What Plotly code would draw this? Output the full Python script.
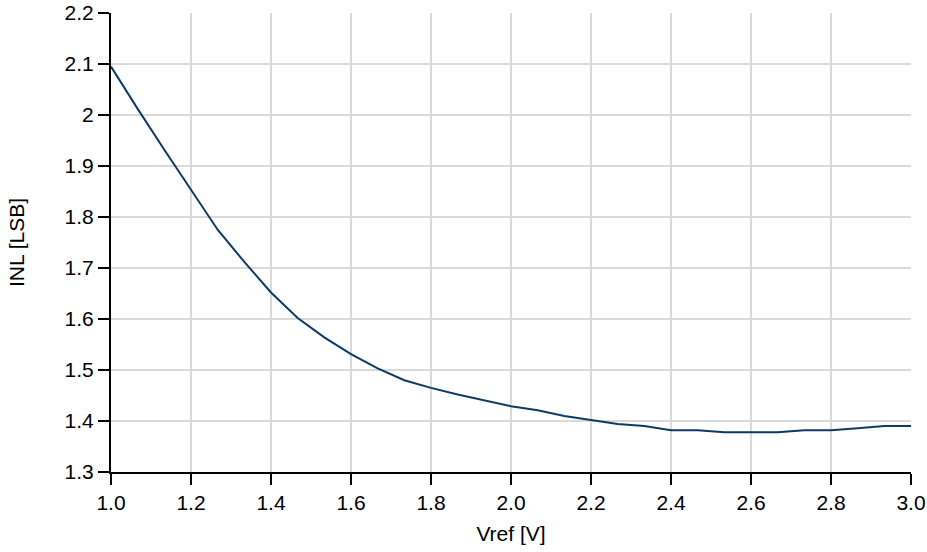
import plotly.graph_objects as go

vref = [1.0, 1.0667, 1.1333, 1.2, 1.2667, 1.3333, 1.4, 1.4667, 1.5333, 1.6,
        1.6667, 1.7333, 1.8, 1.8667, 1.9333, 2.0, 2.0667, 2.1333, 2.2, 2.2667,
        2.3333, 2.4, 2.4667, 2.5333, 2.6, 2.6667, 2.7333, 2.8, 2.8667, 2.9333, 3.0]
inl = [2.095, 2.012, 1.932, 1.853, 1.775, 1.712, 1.652, 1.602, 1.564, 1.531,
       1.503, 1.480, 1.465, 1.452, 1.441, 1.429, 1.421, 1.410, 1.402, 1.394,
       1.390, 1.382, 1.382, 1.378, 1.378, 1.378, 1.382, 1.382, 1.386, 1.390, 1.390]

x_ticks = [1.0, 1.2, 1.4, 1.6, 1.8, 2.0, 2.2, 2.4, 2.6, 2.8, 3.0]
y_ticks = [1.3, 1.4, 1.5, 1.6, 1.7, 1.8, 1.9, 2.0, 2.1, 2.2]

fig = go.Figure()
fig.add_trace(go.Scatter(x=vref, y=inl, mode="lines",
                         line=dict(color="#0d3a63", width=2), showlegend=False))

font = dict(family="Liberation Sans, Arial, sans-serif", size=21, color="#000000")
fig.update_layout(
    width=927, height=552,
    margin=dict(l=111, r=16, t=13, b=80, autoexpand=False),
    paper_bgcolor="white", plot_bgcolor="white",
    font=font,
    xaxis=dict(
        range=[1.0, 3.0], tickvals=x_ticks, ticktext=[f"{v:.1f}" for v in x_ticks],
        tickfont=font, automargin=False,
        showgrid=True, gridcolor="#d9d9d9", gridwidth=2,
        showline=True, linecolor="black", linewidth=2,
        ticks="outside", ticklen=11, tickwidth=2, tickcolor="black",
        title=dict(text="Vref [V]", font=font, standoff=13),
        zeroline=False,
    ),
    yaxis=dict(
        range=[1.3, 2.2], tickvals=y_ticks, ticktext=[f"{v:g}" for v in y_ticks],
        tickfont=font, automargin=False,
        showgrid=True, gridcolor="#d9d9d9", gridwidth=2,
        showline=True, linecolor="black", linewidth=2,
        ticks="outside", ticklen=11, tickwidth=2, tickcolor="black",
        title=dict(text="INL [LSB]", font=font, standoff=34),
        zeroline=False,
    ),
)
fig.write_html("out.html", config={"displayModeBar": False},
               post_script="document.body.style.margin='0';document.body.style.overflow='hidden';")
